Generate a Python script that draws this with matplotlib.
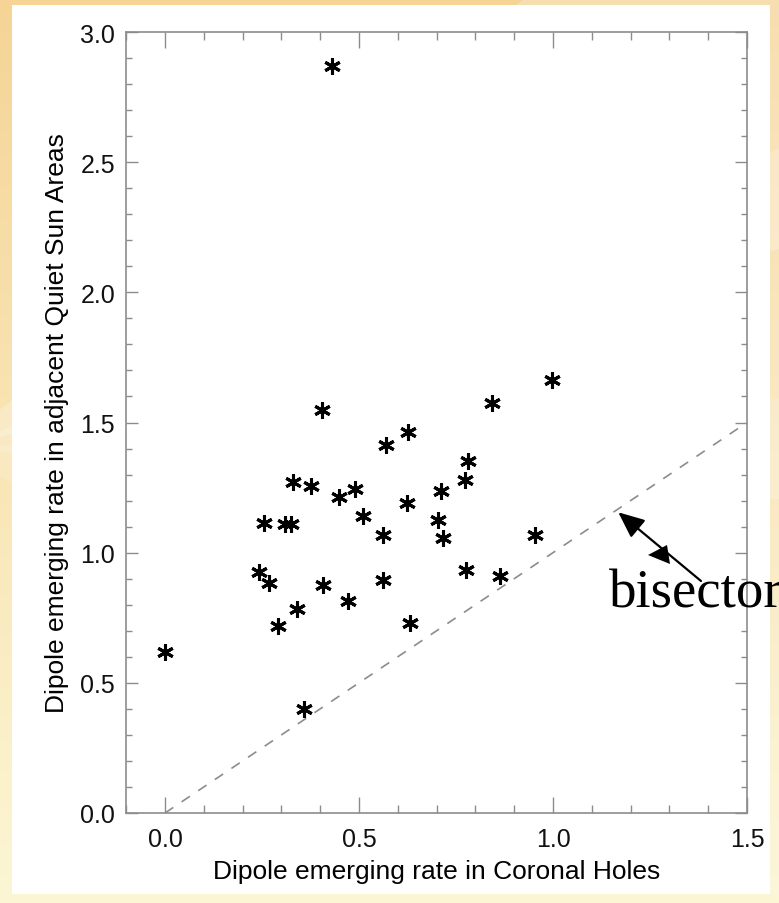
import numpy as np
import matplotlib.pyplot as plt
from matplotlib.patches import Rectangle, Polygon, FancyArrowPatch

# Dipole emerging rates
ch_rate = [0.00, 0.43, 0.405, 0.242, 0.268, 0.255, 0.309, 0.326, 0.291, 0.331,
           0.339, 0.375, 0.358, 0.407, 0.448, 0.472, 0.490, 0.511, 0.563, 0.561,
           0.570, 0.625, 0.624, 0.632, 0.711, 0.704, 0.716, 0.780, 0.773, 0.775,
           0.844, 0.863, 0.954, 0.997]
qs_rate = [0.618, 2.868, 1.547, 0.926, 0.885, 1.115, 1.112, 1.112, 0.717, 1.272,
           0.783, 1.256, 0.400, 0.877, 1.213, 0.813, 1.246, 1.141, 1.067, 0.894,
           1.413, 1.464, 1.190, 0.730, 1.236, 1.126, 1.057, 1.351, 1.281, 0.932,
           1.576, 0.909, 1.067, 1.663]
bisector = [0.0, 1.5]

W, H = 779, 904
fig = plt.figure(figsize=(W / 100, H / 100), dpi=100)

# slide background (pixel coords)
bg = fig.add_axes([0, 0, 1, 1], zorder=-2)
bg.set_xlim(0, W)
bg.set_ylim(H, 0)
bg.axis("off")
top = np.array([245, 212, 150]) / 255
bot = np.array([252, 246, 212]) / 255
t = np.linspace(0, 1, 256)[:, None, None]
grad = top + (bot - top) * t
grad = np.repeat(grad, 4, axis=1)
bg.imshow(grad, extent=[0, W, H, 0], aspect="auto")
for y0, y1, a in [(-200, 250, 0.25), (150, 500, 0.2), (400, 900, 0.15)]:
    bg.add_patch(Polygon([[-50, 450], [W, y0], [W, y1]], color="white", alpha=a, lw=0))
bg.add_patch(Rectangle((12, 6), 758, 889, color="white", lw=0))

# main plot
ax = fig.add_axes([126.2 / W, 1 - 814 / H, (747 - 126.2) / W, (814 - 33) / H])
ax.set_xlim(-0.1, 1.5)
ax.set_ylim(0, 3.0)

ax.plot(bisector, bisector, ls=(0, (6, 6)), color="#8c8c8c", lw=1.2)
ax.plot(ch_rate, qs_rate, ls="none", marker=(6, 2, 0), ms=12, mew=2.2,
        color="black")

ax.set_xticks([0.0, 0.5, 1.0, 1.5])
ax.set_xticks(np.arange(-0.1, 1.51, 0.1), minor=True)
ax.set_yticks(np.arange(0, 3.01, 0.5))
ax.set_yticks(np.arange(0, 3.01, 0.1), minor=True)
ax.set_xticklabels(["0.0", "0.5", "1.0", "1.5"])
ax.set_yticklabels(["0.0", "0.5", "1.0", "1.5", "2.0", "2.5", "3.0"])

gray = "#8c8c8c"
for s in ax.spines.values():
    s.set_color(gray)
    s.set_linewidth(1.2)
ax.tick_params(which="both", direction="in", top=True, right=True,
               color=gray, width=1, labelsize=18, labelcolor="#111111")
ax.tick_params(axis="x", which="major", length=11.5, pad=10)
ax.tick_params(axis="x", which="minor", length=5.8)
ax.tick_params(axis="y", which="major", length=8.6, pad=8)
ax.tick_params(axis="y", which="minor", length=4.3)
for lab in ax.get_xticklabels() + ax.get_yticklabels():
    lab.set_family("Liberation Sans")

ax.set_xlabel("Dipole emerging rate in Coronal Holes", fontsize=19,
              family="Liberation Sans", labelpad=6)
ax.set_ylabel("Dipole emerging rate in adjacent Quiet Sun Areas", fontsize=19,
              family="Liberation Sans", labelpad=8)

# annotation overlay (pixel coords)
ov = fig.add_axes([0, 0, 1, 1], zorder=3)
ov.set_xlim(0, W)
ov.set_ylim(H, 0)
ov.axis("off")
ov.patch.set_alpha(0)
ov.add_patch(FancyArrowPatch((701, 582), (618.3, 513.3),
                             arrowstyle="-|>,head_length=16,head_width=7",
                             mutation_scale=1, lw=1.6, color="black",
                             shrinkA=0, shrinkB=0))
ov.add_patch(Polygon([[648, 556], [667, 546], [670, 565]],
                     color="black", lw=0))
ov.text(609, 608, "bisector", fontsize=39.5, family="Liberation Serif",
        ha="left", va="baseline", color="black", clip_on=False)

fig.savefig("out.png", dpi=100)
